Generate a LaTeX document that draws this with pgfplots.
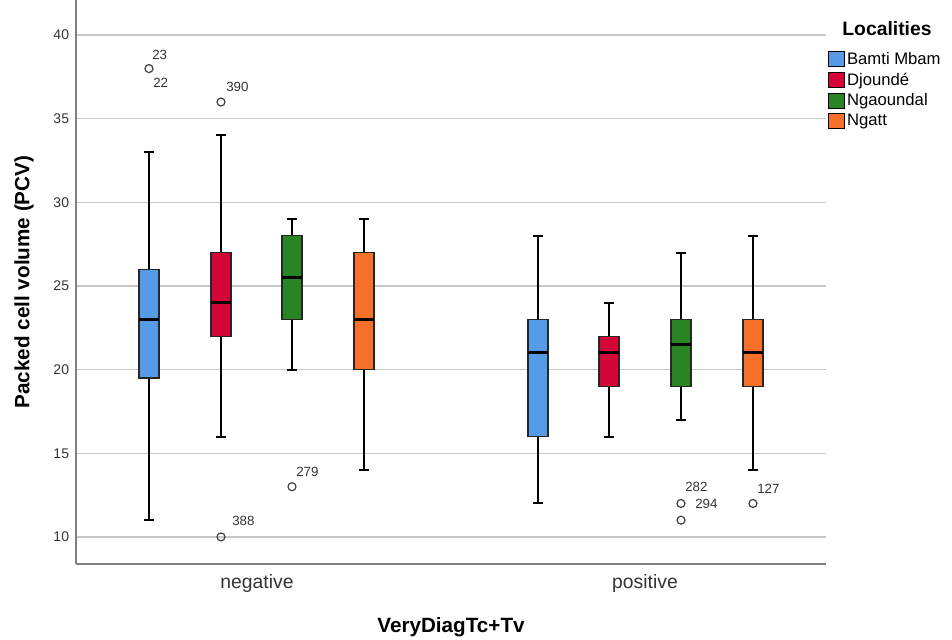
\documentclass[border=0pt]{standalone}
\usepackage{fontspec}
\setmainfont{Liberation Sans}
\usepackage{pgfplots}
\pgfplotsset{compat=1.18}

\definecolor{cBlue}{RGB}{86,155,231}
\definecolor{cRed}{RGB}{212,4,56}
\definecolor{cGreen}{RGB}{41,132,36}
\definecolor{cOrange}{RGB}{245,112,40}

% x is the box position in px: negative 149/221/292/364, positive 538/609/681/753
\pgfplotsset{
  boxst/.style={forget plot, draw=black!85, line width=0.8pt, line cap=rect, mark=none},
  segs/.style={forget plot, black, mark=none, unbounded coords=jump},
}

\begin{document}
\begin{tikzpicture}
\begin{axis}[
  scale only axis, width=562.5pt, height=423pt,
  xmin=76, xmax=826, ymin=8.38, ymax=42.1,
  clip=false,
  axis x line=bottom, axis y line=left,
  axis line style={-, draw=black!50, line width=1.1pt},
  xtick={257,645}, xticklabels={negative,positive},
  ytick={10,15,...,40},
  major tick length=0pt,
  /pgf/number format/assume math mode=true,
  yticklabel style={font=\fontsize{10.5}{12}\selectfont, text=black!80, inner sep=0pt, xshift=-5pt},
  xticklabel style={font=\fontsize{14.5}{16}\selectfont, text=black!80, inner sep=0pt, yshift=-8pt},
  ymajorgrids, grid style={black!22, line width=1pt},
  xlabel={VeryDiagTc+Tv},
  ylabel={Packed cell volume (PCV)},
  xlabel style={font=\bfseries\fontsize{15.5}{18}\selectfont, at={(axis description cs:0.5,-0.1117)}, anchor=center},
  ylabel style={font=\bfseries\fontsize{15.5}{18}\selectfont, at={(axis description cs:-0.0693,0.5)}, anchor=center},
  legend image code/.code={\draw[#1, draw=black, line width=0.6pt] (0pt,-5.6pt) rectangle (11.5pt,5.6pt);},
  legend style={at={(axis description cs:1.0027,0.913)}, anchor=north west, draw=none, fill=none,
    inner sep=0pt, font=\fontsize{12.5}{15}\selectfont, row sep=1pt},
  legend cell align=left,
]
% whiskers: upper cap, stem from upper to lower whisker (hidden behind the box), lower cap
\addplot[segs, line width=1.5pt] coordinates {
  (144,33) (154,33) (149,nan) (149,33) (149,11) (149,nan) (144,11) (154,11) (149,nan)
  (216,34) (226,34) (221,nan) (221,34) (221,16) (221,nan) (216,16) (226,16) (221,nan)
  (287,29) (297,29) (292,nan) (292,29) (292,20) (292,nan) (287,20) (297,20) (292,nan)
  (359,29) (369,29) (364,nan) (364,29) (364,14) (364,nan) (359,14) (369,14) (364,nan)
  (533,28) (543,28) (538,nan) (538,28) (538,12) (538,nan) (533,12) (543,12) (538,nan)
  (604,24) (614,24) (609,nan) (609,24) (609,16) (609,nan) (604,16) (614,16) (609,nan)
  (676,27) (686,27) (681,nan) (681,27) (681,17) (681,nan) (676,17) (686,17) (681,nan)
  (748,28) (758,28) (753,nan) (753,28) (753,14) (753,nan) (748,14) (758,14)
};

% boxes (Q1 to Q3, 20 px wide)
\addplot[boxst, fill=cBlue]   coordinates {(139,19.5) (159,19.5) (159,26) (139,26) (139,19.5)};
\addplot[boxst, fill=cRed]    coordinates {(211,22) (231,22) (231,27) (211,27) (211,22)};
\addplot[boxst, fill=cGreen]  coordinates {(282,23) (302,23) (302,28) (282,28) (282,23)};
\addplot[boxst, fill=cOrange] coordinates {(354,20) (374,20) (374,27) (354,27) (354,20)};
\addplot[boxst, fill=cBlue]   coordinates {(528,16) (548,16) (548,23) (528,23) (528,16)};
\addplot[boxst, fill=cRed]    coordinates {(599,19) (619,19) (619,22) (599,22) (599,19)};
\addplot[boxst, fill=cGreen]  coordinates {(671,19) (691,19) (691,23) (671,23) (671,19)};
\addplot[boxst, fill=cOrange] coordinates {(743,19) (763,19) (763,23) (743,23) (743,19)};

% medians
\addplot[segs, line width=2.3pt] coordinates {
  (139,23) (159,23) (149,nan)
  (211,24) (231,24) (221,nan)
  (282,25.5) (302,25.5) (292,nan)
  (354,23) (374,23) (364,nan)
  (528,21) (548,21) (538,nan)
  (599,21) (619,21) (609,nan)
  (671,21.5) (691,21.5) (681,nan)
  (743,21) (763,21)
};

% outliers
\addplot[forget plot, only marks, mark=o, mark size=3pt, draw=black!75, mark options={line width=0.9pt}]
  coordinates {(149,38) (221,36) (221,10) (292,13) (681,12) (681,11) (753,12)};

\begin{scope}[every node/.style={anchor=west, font=\fontsize{10}{12}\selectfont, text=black!80, inner sep=0pt}]
\node at (axis cs:152,38.80) {23};
\node at (axis cs:153,37.13) {22};
\node at (axis cs:226,36.89) {390};
\node at (axis cs:232,10.96) {388};
\node at (axis cs:296,13.89) {279};
\node at (axis cs:685,12.99) {282};
\node at (axis cs:695,11.95) {294};
\node at (axis cs:757,12.87) {127};
\end{scope}

\addlegendimage{fill=cBlue}\addlegendentry{Bamti Mbam}
\addlegendimage{fill=cRed}\addlegendentry{Djoundé}
\addlegendimage{fill=cGreen}\addlegendentry{Ngaoundal}
\addlegendimage{fill=cOrange}\addlegendentry{Ngatt}

\node[font=\bfseries\fontsize{14.5}{16}\selectfont, anchor=center] at (axis description cs:1.0813,0.9486) {Localities};

\coordinate (bbsw) at (axis description cs:-0.10133,-0.13298);
\coordinate (bbne) at (axis description cs:1.168,1.0);
\end{axis}
\pgfresetboundingbox
\path[use as bounding box] (bbsw) rectangle (bbne);
\end{tikzpicture}
\end{document}
